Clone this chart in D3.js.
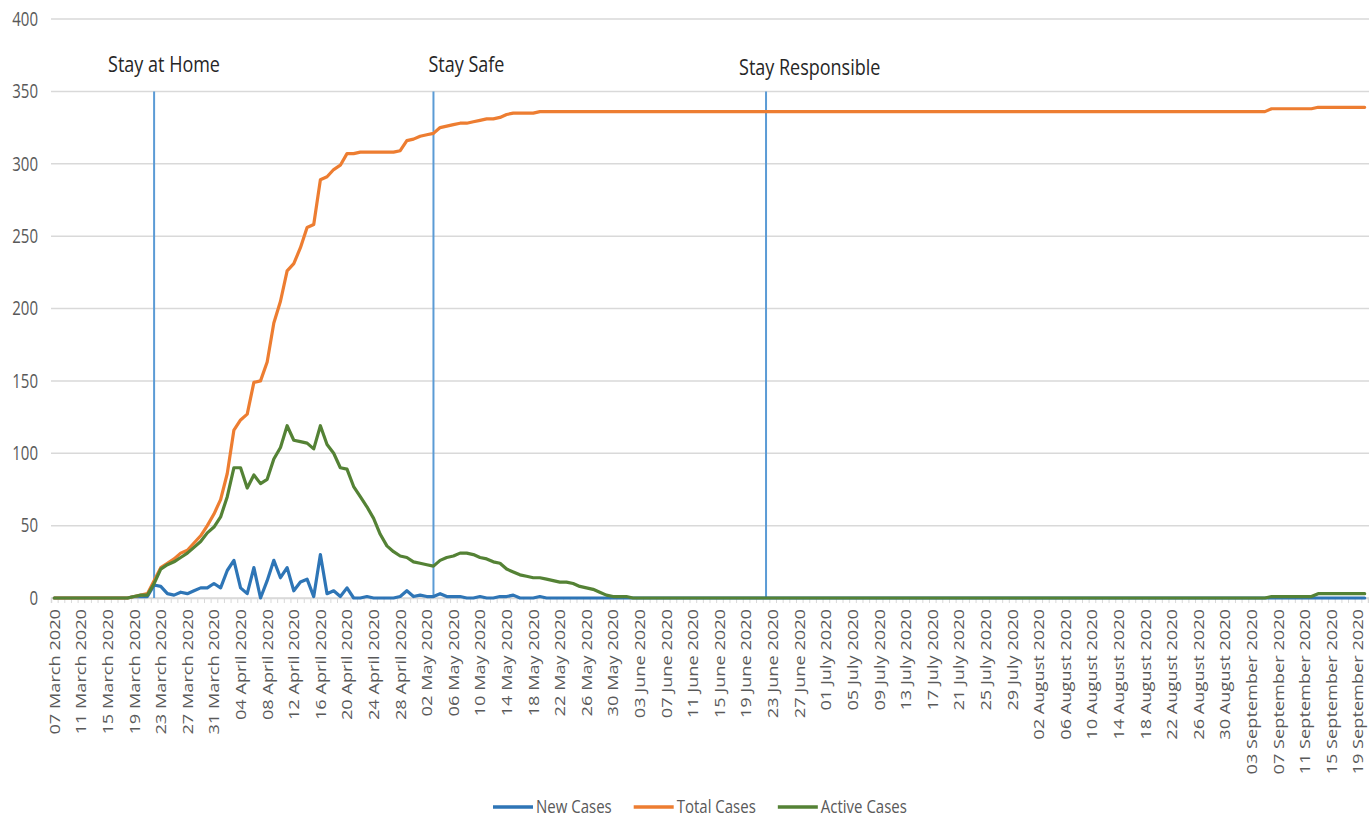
<!DOCTYPE html>
<html>
<head>
<meta charset="utf-8">
<script src="https://cdn.jsdelivr.net/npm/d3@7"></script>
<style>
  body { margin: 0; background: #fff; }
  text { font-family: "Open Sans", sans-serif; }
</style>
</head>
<body>
<svg id="chart" width="1369" height="820"></svg>
<script>
// categories: one per day, 07 March 2020 to 20 September 2020
const startDate = new Date(2020, 2, 7);
const dayCount = 198;
const dates = d3.timeDay.range(startDate, d3.timeDay.offset(startDate, dayCount));

const yTicks = [0, 50, 100, 150, 200, 250, 300, 350, 400];

const newCases = [
  0,0,0,0,0,0,0,0,0,0,
  0,0,1,1,1,9,8,3,2,4,
  3,5,7,7,10,7,19,26,7,3,
  21,0,12,26,14,21,5,11,13,1,
  30,3,5,1,7,0,0,1,0,0,
  0,0,1,5,1,2,1,1,3,1,
  1,1,0,0,1,0,0,1,1,2,
  0,0,0,1,0,0,0,0,0,0,
  0,0,0,0,0,0,0,0,0,0,
  0,0,0,0,0,0,0,0,0,0,
  0,0,0,0,0,0,0,0,0,0,
  0,0,0,0,0,0,0,0,0,0,
  0,0,0,0,0,0,0,0,0,0,
  0,0,0,0,0,0,0,0,0,0,
  0,0,0,0,0,0,0,0,0,0,
  0,0,0,0,0,0,0,0,0,0,
  0,0,0,0,0,0,0,0,0,0,
  0,0,0,0,0,0,0,0,0,0,
  0,0,0,0,0,0,0,0,0,0,
  0,0,0,0,0,0,0,0
];

const totalCases = [
  0,0,0,0,0,0,0,0,0,0,
  0,0,1,2,3,12,21,24,27,31,
  33,38,43,50,58,68,86,116,123,127,
  149,150,163,190,205,226,231,242,256,258,
  289,291,296,299,307,307,308,308,308,308,
  308,308,309,316,317,319,320,321,325,326,
  327,328,328,329,330,331,331,332,334,335,
  335,335,335,336,336,336,336,336,336,336,
  336,336,336,336,336,336,336,336,336,336,
  336,336,336,336,336,336,336,336,336,336,
  336,336,336,336,336,336,336,336,336,336,
  336,336,336,336,336,336,336,336,336,336,
  336,336,336,336,336,336,336,336,336,336,
  336,336,336,336,336,336,336,336,336,336,
  336,336,336,336,336,336,336,336,336,336,
  336,336,336,336,336,336,336,336,336,336,
  336,336,336,336,336,336,336,336,336,336,
  336,336,336,336,336,336,336,336,336,336,
  336,336,336,338,338,338,338,338,338,338,
  339,339,339,339,339,339,339,339
];

const activeCases = [
  0,0,0,0,0,0,0,0,0,0,
  0,0,1,2,2,10,20,23,25,28,
  31,35,39,45,49,56,70,90,90,76,
  85,79,82,96,104,119,109,108,107,103,
  119,106,100,90,89,77,70,63,55,44,
  36,32,29,28,25,24,23,22,26,28,
  29,31,31,30,28,27,25,24,20,18,
  16,15,14,14,13,12,11,11,10,8,
  7,6,4,2,1,1,1,0,0,0,
  0,0,0,0,0,0,0,0,0,0,
  0,0,0,0,0,0,0,0,0,0,
  0,0,0,0,0,0,0,0,0,0,
  0,0,0,0,0,0,0,0,0,0,
  0,0,0,0,0,0,0,0,0,0,
  0,0,0,0,0,0,0,0,0,0,
  0,0,0,0,0,0,0,0,0,0,
  0,0,0,0,0,0,0,0,0,0,
  0,0,0,0,0,0,0,0,0,0,
  0,0,0,1,1,1,1,1,1,1,
  3,3,3,3,3,3,3,3
];

const seriesNames = ["New Cases", "Total Cases", "Active Cases"];
const seriesColors = ["#2e75b6", "#ed7d31", "#548235"];

const eventNames = ["Stay at Home", "Stay Safe", "Stay Responsible"];
const eventDates = [new Date(2020, 2, 22), new Date(2020, 4, 3), new Date(2020, 5, 22)];
// label placement relative to each line
const eventLabelDx = [-46, -5, -27];
const eventLabelY = [64, 64, 67];

const svg = d3.select("#chart");
svg.append("rect").attr("width", 1369).attr("height", 820).attr("fill", "#fff");

const x = d3.scaleLinear().domain([-0.5, dayCount - 0.5]).range([51, 1368]);
const y = d3.scaleLinear().domain([0, 400]).range([598, 19]);
const fmt = d3.timeFormat("%d %B %Y");
const stretch = 1.3;

// gridlines
svg.append("g")
  .selectAll("line")
  .data(yTicks)
  .enter()
  .append("line")
  .attr("x1", x(-0.5))
  .attr("x2", 1369)
  .attr("y1", d => y(d))
  .attr("y2", d => y(d))
  .attr("stroke", "#d9d9d9")
  .attr("stroke-width", 1.5);

// y labels
svg.append("g")
  .selectAll("text")
  .data(yTicks)
  .enter()
  .append("text")
  .attr("transform", d => `translate(38,${y(d)}) scale(1,${stretch})`)
  .attr("text-anchor", "end")
  .attr("dy", "0.35em")
  .attr("font-size", 15)
  .attr("fill", "#595959")
  .text(d => d);

// category tick marks
const tickAxis = svg.append("g")
  .attr("transform", `translate(0,${y(0)})`)
  .call(d3.axisBottom(x)
    .tickValues(d3.range(dayCount + 1).map(i => i - 0.5))
    .tickSize(5)
    .tickFormat(""));
tickAxis.select(".domain").attr("stroke", "#d9d9d9").attr("stroke-width", 1.5);
tickAxis.selectAll(".tick line").attr("stroke", "#d9d9d9");

// date labels every 4 days
const labelAxis = svg.append("g")
  .attr("transform", `translate(0,${y(0)})`)
  .call(d3.axisBottom(x)
    .tickValues(d3.range(0, dayCount, 4))
    .tickSize(0)
    .tickFormat(i => fmt(dates[i])));
labelAxis.select(".domain").remove();
labelAxis.selectAll("text")
  .attr("x", 0)
  .attr("y", 0)
  .attr("dy", "0.35em")
  .attr("text-anchor", "end")
  .attr("font-family", "Open Sans, sans-serif")
  .attr("font-size", 14)
  .attr("fill", "#595959")
  .attr("transform", `translate(0,11) scale(1,${stretch}) rotate(-90)`);

// event lines
const eventIdx = eventDates.map(d => d3.timeDay.count(startDate, d));
svg.append("g")
  .selectAll("line")
  .data(eventIdx)
  .enter()
  .append("line")
  .attr("x1", d => x(d))
  .attr("x2", d => x(d))
  .attr("y1", y(350))
  .attr("y2", y(0))
  .attr("stroke", "#5b9bd5")
  .attr("stroke-width", 2);

svg.append("g")
  .selectAll("text")
  .data(eventNames)
  .enter()
  .append("text")
  .attr("transform", (d, i) => `translate(${x(eventIdx[i]) + eventLabelDx[i]},${eventLabelY[i]}) scale(1,1.25)`)
  .attr("dy", "0.35em")
  .attr("font-size", 18)
  .attr("fill", "#262626")
  .text(d => d);

// series lines
const line = d3.line()
  .x((d, i) => x(i))
  .y(d => y(d));

const seriesData = [newCases, totalCases, activeCases];
svg.append("g")
  .selectAll("path")
  .data(seriesData)
  .enter()
  .append("path")
  .attr("d", line)
  .attr("fill", "none")
  .attr("stroke", (d, i) => seriesColors[i])
  .attr("stroke-width", 3.2)
  .attr("stroke-linejoin", "round")
  .attr("stroke-linecap", "round");

// legend
const legend = svg.append("g").attr("transform", "translate(493,807)");
let lx = 0;
seriesNames.forEach((name, i) => {
  legend.append("line")
    .attr("x1", lx).attr("x2", lx + 40)
    .attr("y1", 0).attr("y2", 0)
    .attr("stroke", seriesColors[i])
    .attr("stroke-width", 3.5);
  const t = legend.append("text")
    .attr("transform", `translate(${lx + 43},0) scale(1,1.15)`)
    .attr("dy", "0.35em")
    .attr("font-size", 15)
    .attr("fill", "#595959")
    .text(name);
  lx += 43 + t.node().getComputedTextLength() + 22;
});
</script>
</body>
</html>
